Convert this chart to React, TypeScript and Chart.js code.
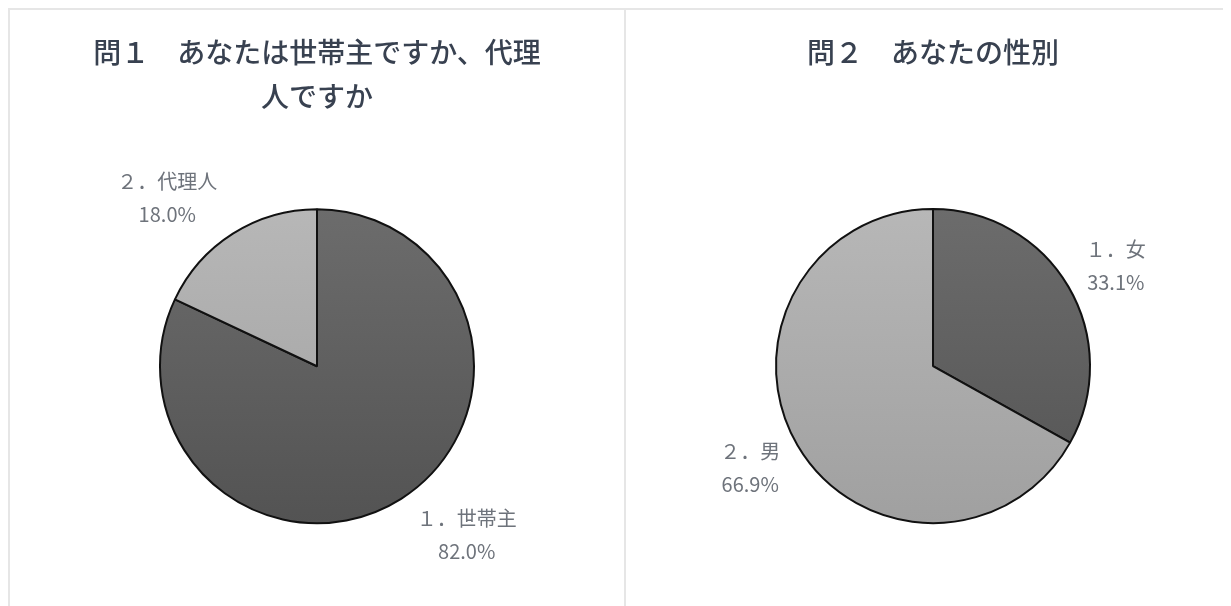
import React, { useEffect, useRef } from "react";
import { Chart, registerables } from "chart.js";

Chart.register(...registerables);

const q1Title = ["問１　あなたは世帯主ですか、代理", "人ですか"];
const q1Labels = ["１．世帯主", "２．代理人"];
const q1Values = [82.0, 18.0];

const q2Title = ["問２　あなたの性別"];
const q2Labels = ["１．女", "２．男"];
const q2Values = [33.1, 66.9];

const PIE_RADIUS = 157;
const DARK = ["#6c6c6c", "#535353"];
const LIGHT = ["#b7b7b7", "#a0a0a0"];
const BORDER = "#e6e6e6";

const labelPlugin = {
  id: "outerLabels",
  afterDatasetsDraw(chart: any, _args: any, opts: any) {
    const ctx = chart.ctx;
    const meta = chart.getDatasetMeta(0);
    const values = chart.data.datasets[0].data as number[];
    ctx.save();
    ctx.fillStyle = opts.color || "#6e737b";
    ctx.font = "20px 'Noto Sans CJK JP', sans-serif";
    ctx.textAlign = "center";
    ctx.textBaseline = "middle";
    meta.data.forEach((arc: any, i: number) => {
      const p = arc.getProps(["x", "y", "startAngle", "endAngle", "outerRadius"], true);
      const mid = (p.startAngle + p.endAngle) / 2;
      const cx = p.x + Math.cos(mid) * p.outerRadius * opts.rx;
      const cy = p.y + Math.sin(mid) * p.outerRadius * opts.ry;
      ctx.fillText(String(chart.data.labels[i]), cx, cy - 16);
      ctx.fillText(values[i].toFixed(1) + "%", cx, cy + 17);
    });
    ctx.restore();
  },
};

function gradientFill(fills: string[][]) {
  return (c: any) => {
    const colors = fills[c.dataIndex % fills.length];
    const chart = c.chart;
    const area = chart.chartArea;
    if (!area) return colors[0];
    const cy = (area.top + area.bottom) / 2;
    const g = chart.ctx.createLinearGradient(0, cy - PIE_RADIUS, 0, cy + PIE_RADIUS);
    g.addColorStop(0, colors[0]);
    g.addColorStop(1, colors[1]);
    return g;
  };
}

function PiePanel(props: {
  title: string[];
  labels: string[];
  values: number[];
  fills: string[][];
  titlePadBottom: number;
  rx: number;
  ry: number;
}) {
  const ref = useRef<HTMLCanvasElement | null>(null);
  useEffect(() => {
    if (!ref.current) return;
    const chart = new Chart(ref.current, {
      type: "pie",
      data: {
        labels: props.labels,
        datasets: [
          {
            data: props.values,
            backgroundColor: gradientFill(props.fills) as any,
            borderColor: "#111111",
            borderWidth: 2,
            radius: PIE_RADIUS,
          } as any,
        ],
      },
      options: {
        responsive: false,
        animation: false,
        layout: { padding: { bottom: 2 } },
        plugins: {
          legend: { display: false },
          tooltip: { enabled: false },
          title: {
            display: true,
            text: props.title,
            color: "#384150",
            font: { family: "'Noto Sans CJK JP', sans-serif", size: 28, weight: "500", lineHeight: 1.58 },
            padding: { top: 20, bottom: props.titlePadBottom },
          },
          outerLabels: { rx: props.rx, ry: props.ry, color: "#6e737b" },
        } as any,
      },
      plugins: [labelPlugin],
    });
    return () => chart.destroy();
  }, []);
  return (
    <div
      style={{
        width: 616,
        height: 598,
        boxSizing: "border-box",
        borderTop: `2px solid ${BORDER}`,
        borderLeft: `2px solid ${BORDER}`,
        background: "#fff",
        flex: "0 0 auto",
      }}
    >
      <canvas ref={ref} width={614} height={596} style={{ display: "block" }} />
    </div>
  );
}

export default function App() {
  useEffect(() => {
    document.documentElement.style.overflow = "hidden";
    document.body.style.overflow = "hidden";
  }, []);
  return (
    <div style={{ display: "flex", width: 1232, height: 598, overflow: "hidden" }}>
      <PiePanel
        title={q1Title}
        labels={q1Labels}
        values={q1Values}
        fills={[DARK, LIGHT]}
        titlePadBottom={10}
        rx={1.78}
        ry={1.27}
      />
      <PiePanel
        title={q2Title}
        labels={q2Labels}
        values={q2Values}
        fills={[DARK, LIGHT]}
        titlePadBottom={54}
        rx={1.35}
        ry={1.27}
      />
    </div>
  );
}
